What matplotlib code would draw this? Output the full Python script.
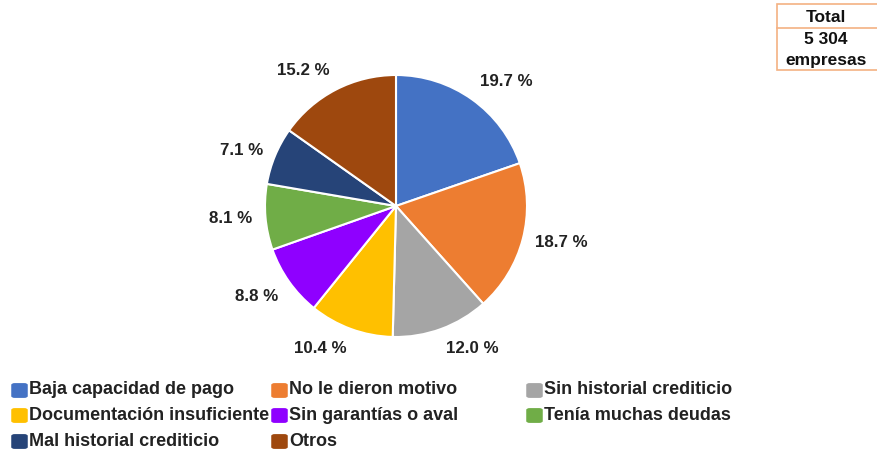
import matplotlib

matplotlib.use("Agg")

import numpy as np
import matplotlib.pyplot as plt
from matplotlib.patches import FancyBboxPatch, Rectangle
from matplotlib.lines import Line2D

plt.rcParams["font.family"] = ["Liberation Sans", "DejaVu Sans"]

# data
categories = [
    "Baja capacidad de pago",
    "No le dieron motivo",
    "Sin historial crediticio",
    "Documentación insuficiente",
    "Sin garantías o aval",
    "Tenía muchas deudas",
    "Mal historial crediticio",
    "Otros",
]
shares = [19.7, 18.7, 12.0, 10.4, 8.8, 8.1, 7.1, 15.2]
colors = ["#4472C4", "#ED7D31", "#A5A5A5", "#FFC000",
          "#8F00FF", "#70AD47", "#264478", "#9E480E"]
total_lines = ["Total", "5 304", "empresas"]

W, H = 878, 454
fig = plt.figure(figsize=(W / 100, H / 100), dpi=100)

# pie axes: centre at (396, 206) px from top-left, radius 131 px
cx, cy, r = 396, 206, 131
lim = 1.3
size = 2 * r * lim
ax = fig.add_axes([(cx - size / 2) / W, 1 - (cy + size / 2) / H, size / W, size / H])
wedges, _, pcts = ax.pie(
    shares,
    colors=colors,
    startangle=90,
    counterclock=False,
    autopct=lambda p: f"{p:.1f} %",
    wedgeprops=dict(edgecolor="white", linewidth=1.5),
    textprops=dict(fontsize=12.2, fontweight="bold", color="#222222"),
)
# labels "outside end": anchored just off the rim, box pushed outwards
for w, t in zip(wedges, pcts):
    ang = np.deg2rad((w.theta1 + w.theta2) / 2)
    c, s = np.cos(ang), np.sin(ang)
    t.set_position((1.1 * c, 1.1 * s))
    t.set_ha("left" if c > 0 else "right")
    if abs(s) < 0.5:
        t.set_va("center")
    else:
        t.set_va("bottom" if s > 0 else "top")
ax.set_xlim(-lim, lim)
ax.set_ylim(-lim, lim)
ax.set_aspect("equal")
ax.axis("off")

# legend, laid out in three fixed columns like the original
col_x = [12, 272, 527]
row_y = [390, 415, 441]
for i, (name, col) in enumerate(zip(categories, colors)):
    x = col_x[i % 3]
    y = row_y[i // 3]
    box = FancyBboxPatch(
        ((x + 1) / W, 1 - (y + 7) / H), 13 / W, 13 / H,
        boxstyle="round,pad=0.002,rounding_size=0.004",
        transform=fig.transFigure, facecolor=col, edgecolor="none",
    )
    fig.patches.append(box)
    fig.text((x + 17) / W, 1 - y / H, name, fontsize=13, fontweight="bold",
             color="#222222", va="center", ha="left")

# total box top right
bx0, bx1, by0, by1 = 777, 880, 4, 70
fig.patches.append(Rectangle((bx0 / W, 1 - by1 / H), (bx1 - bx0) / W, (by1 - by0) / H,
                             transform=fig.transFigure, facecolor="white",
                             edgecolor="#F4B183", linewidth=1.2))
fig.add_artist(Line2D([bx0 / W, bx1 / W], [1 - 28 / H, 1 - 28 / H],
                      transform=fig.transFigure, color="#F4B183", linewidth=1.2))
for txt, y in zip(total_lines, [17, 40, 60]):
    fig.text(826 / W, 1 - y / H, txt, fontsize=12.5, fontweight="bold",
             color="#111111", ha="center", va="center")

fig.savefig("out.png", dpi=100)
